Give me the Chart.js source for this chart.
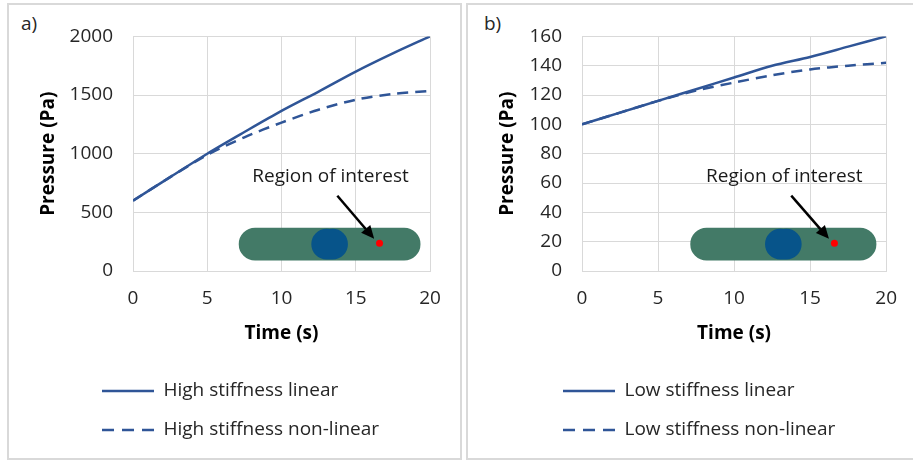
<!DOCTYPE html>
<html>
<head>
<meta charset="utf-8">
<script src="https://cdn.jsdelivr.net/npm/chart.js@4.4.1/dist/chart.umd.min.js"></script>
<style>
  body { margin: 0; background: #fff; font-family: "Open Sans", sans-serif; }
  .panel { position: absolute; top: 3px; height: 453px; border: 2px solid #d9d9d9; }
  .tag { position: absolute; top: 10px; font-size: 19px; color: #262626; }
  canvas { position: absolute; }
</style>
</head>
<body>
<div class="panel" style="left:7px; width:451px;"></div>
<div class="panel" style="left:466px; width:460px;"></div>
<div class="tag" style="left:21px;">a)</div>
<div class="tag" style="left:484px;">b)</div>
<canvas id="chartA" width="451" height="453" style="left:9px; top:5px;"></canvas>
<canvas id="chartB" width="445" height="453" style="left:468px; top:5px;"></canvas>
<script>
const timeSec = [0, 2.5, 5, 7.5, 10, 12.5, 15, 17.5, 20];
const highLinear = [600, 800, 1000, 1185, 1365, 1530, 1700, 1855, 2000];
const highNonLinear = [600, 800, 990, 1140, 1265, 1375, 1460, 1510, 1535];
const lowLinear = [100, 108, 116, 124, 132, 140, 146, 153, 160];
const lowNonLinear = [100, 108, 116, 123, 128.5, 133.5, 137.5, 140, 142];
const labelsA = ["High stiffness linear", "High stiffness non-linear"];
const labelsB = ["Low stiffness linear", "Low stiffness non-linear"];
const insetText = "Region of interest";

const lineBlue = "#2f5597";
const gridGrey = "#d9d9d9";
const font = "'Open Sans', sans-serif";

// moves the bottom legend so both rows start under the y tick labels
const shiftLegend = {
  id: "shiftLegend",
  afterLayout(chart, args, opts) {
    const lg = chart.legend;
    const w = lg.right - lg.left;
    lg.left = opts.x;
    lg.right = opts.x + w;
  }
};

// the little vessel sketch with the red point and arrow
const inset = {
  id: "inset",
  afterDatasetsDraw(chart) {
    const {ctx, chartArea: a} = chart;
    const px = f => a.left + f * (a.right - a.left);
    const py = f => a.top + f * (a.bottom - a.top);
    ctx.save();
    const x0 = px(0.356), x1 = px(0.968), y0 = py(0.816), y1 = py(0.955);
    const r = (y1 - y0) / 2;
    ctx.fillStyle = "#437a67";
    ctx.beginPath();
    ctx.moveTo(x0 + r, y0);
    ctx.lineTo(x1 - r, y0);
    ctx.arc(x1 - r, y0 + r, r, -Math.PI / 2, Math.PI / 2);
    ctx.lineTo(x0 + r, y1);
    ctx.arc(x0 + r, y0 + r, r, Math.PI / 2, Math.PI * 1.5);
    ctx.fill();
    const cx = px(0.662), cy = y0 + r;
    ctx.fillStyle = "#07548a";
    ctx.beginPath();
    ctx.arc(cx - 3, cy, r - 1, 0, Math.PI * 2);
    ctx.arc(cx + 3, cy, r - 1, 0, Math.PI * 2);
    ctx.fill();
    ctx.fillStyle = "#ff0000";
    ctx.beginPath();
    ctx.arc(px(0.83), py(0.882), 3.5, 0, Math.PI * 2);
    ctx.fill();
    // arrow
    const sx = px(0.688), sy = py(0.679), ex = px(0.812), ey = py(0.863);
    const ang = Math.atan2(ey - sy, ex - sx);
    const hl = 13, hw = 6;
    ctx.strokeStyle = "#000";
    ctx.lineWidth = 2.5;
    ctx.beginPath();
    ctx.moveTo(sx, sy);
    ctx.lineTo(ex - Math.cos(ang) * hl, ey - Math.sin(ang) * hl);
    ctx.stroke();
    ctx.fillStyle = "#000";
    ctx.beginPath();
    ctx.moveTo(ex, ey);
    ctx.lineTo(ex - Math.cos(ang) * hl - Math.sin(ang) * hw, ey - Math.sin(ang) * hl + Math.cos(ang) * hw);
    ctx.lineTo(ex - Math.cos(ang) * hl + Math.sin(ang) * hw, ey - Math.sin(ang) * hl - Math.cos(ang) * hw);
    ctx.closePath();
    ctx.fill();
    ctx.fillStyle = "#1a1a1a";
    ctx.font = "19px " + font;
    ctx.textAlign = "center";
    ctx.textBaseline = "middle";
    ctx.fillText(insetText, px(0.665), py(0.598));
    ctx.restore();
  }
};

function makeChart(id, labels, solid, dashed, yMax, yStep, yWidth, pad, legendX) {
  const pts = vals => vals.map((v, i) => ({x: timeSec[i], y: v}));
  return new Chart(document.getElementById(id), {
    type: "line",
    data: {
      datasets: [
        { label: labels[0], data: pts(solid), borderColor: lineBlue, borderWidth: 2.5,
          pointRadius: 0, tension: 0.3, pointStyle: "line" },
        { label: labels[1], data: pts(dashed), borderColor: lineBlue, borderWidth: 2.5,
          borderDash: [11, 7], pointRadius: 0, tension: 0.3, pointStyle: "line" }
      ]
    },
    options: {
      responsive: false,
      animation: false,
      layout: { padding: pad },
      scales: {
        x: {
          type: "linear", min: 0, max: 20,
          ticks: { stepSize: 5, padding: 16, color: "#262626", font: { family: font, size: 19 } },
          grid: { color: gridGrey, drawTicks: false },
          border: { color: gridGrey },
          title: { display: true, text: "Time (s)", color: "#000", padding: { top: 0, bottom: 17 },
                   font: { family: font, size: 19, weight: "bold" } },
          afterFit: s => { s.height = 90.5; }
        },
        y: {
          min: 0, max: yMax,
          ticks: { stepSize: yStep, padding: 20, color: "#262626", font: { family: font, size: 19 },
                   callback: v => String(v) },
          grid: { color: gridGrey, drawTicks: false },
          border: { color: gridGrey },
          title: { display: true, text: "Pressure (Pa)", color: "#000", padding: { top: 28, bottom: 0 },
                   font: { family: font, size: 19, weight: "bold" } },
          afterFit: s => { s.width = yWidth; }
        }
      },
      plugins: {
        tooltip: { enabled: false },
        shiftLegend: { x: legendX },
        legend: {
          position: "bottom",
          align: "start",
          labels: {
            usePointStyle: true, pointStyle: "line", pointStyleWidth: 52,
            padding: 20, color: "#262626", font: { family: font, size: 19 },
            generateLabels: chart =>
              Chart.defaults.plugins.legend.labels.generateLabels(chart).map(item => {
                const ds = chart.data.datasets[item.datasetIndex];
                item.lineDash = ds.borderDash ? [12, 8] : [];
                item.lineWidth = ds.borderWidth;
                item.strokeStyle = ds.borderColor;
                return item;
              })
          }
        }
      }
    },
    plugins: [shiftLegend, inset]
  });
}

makeChart("chartA", labelsA, highLinear, highNonLinear, 2000, 500, 124,
  { top: 22, right: 30, bottom: 8.5, left: 0 }, 73);
makeChart("chartB", labelsB, lowLinear, lowNonLinear, 160, 20, 114,
  { top: 21, right: 24, bottom: 8.5, left: 0 }, 75);
</script>
</body>
</html>
